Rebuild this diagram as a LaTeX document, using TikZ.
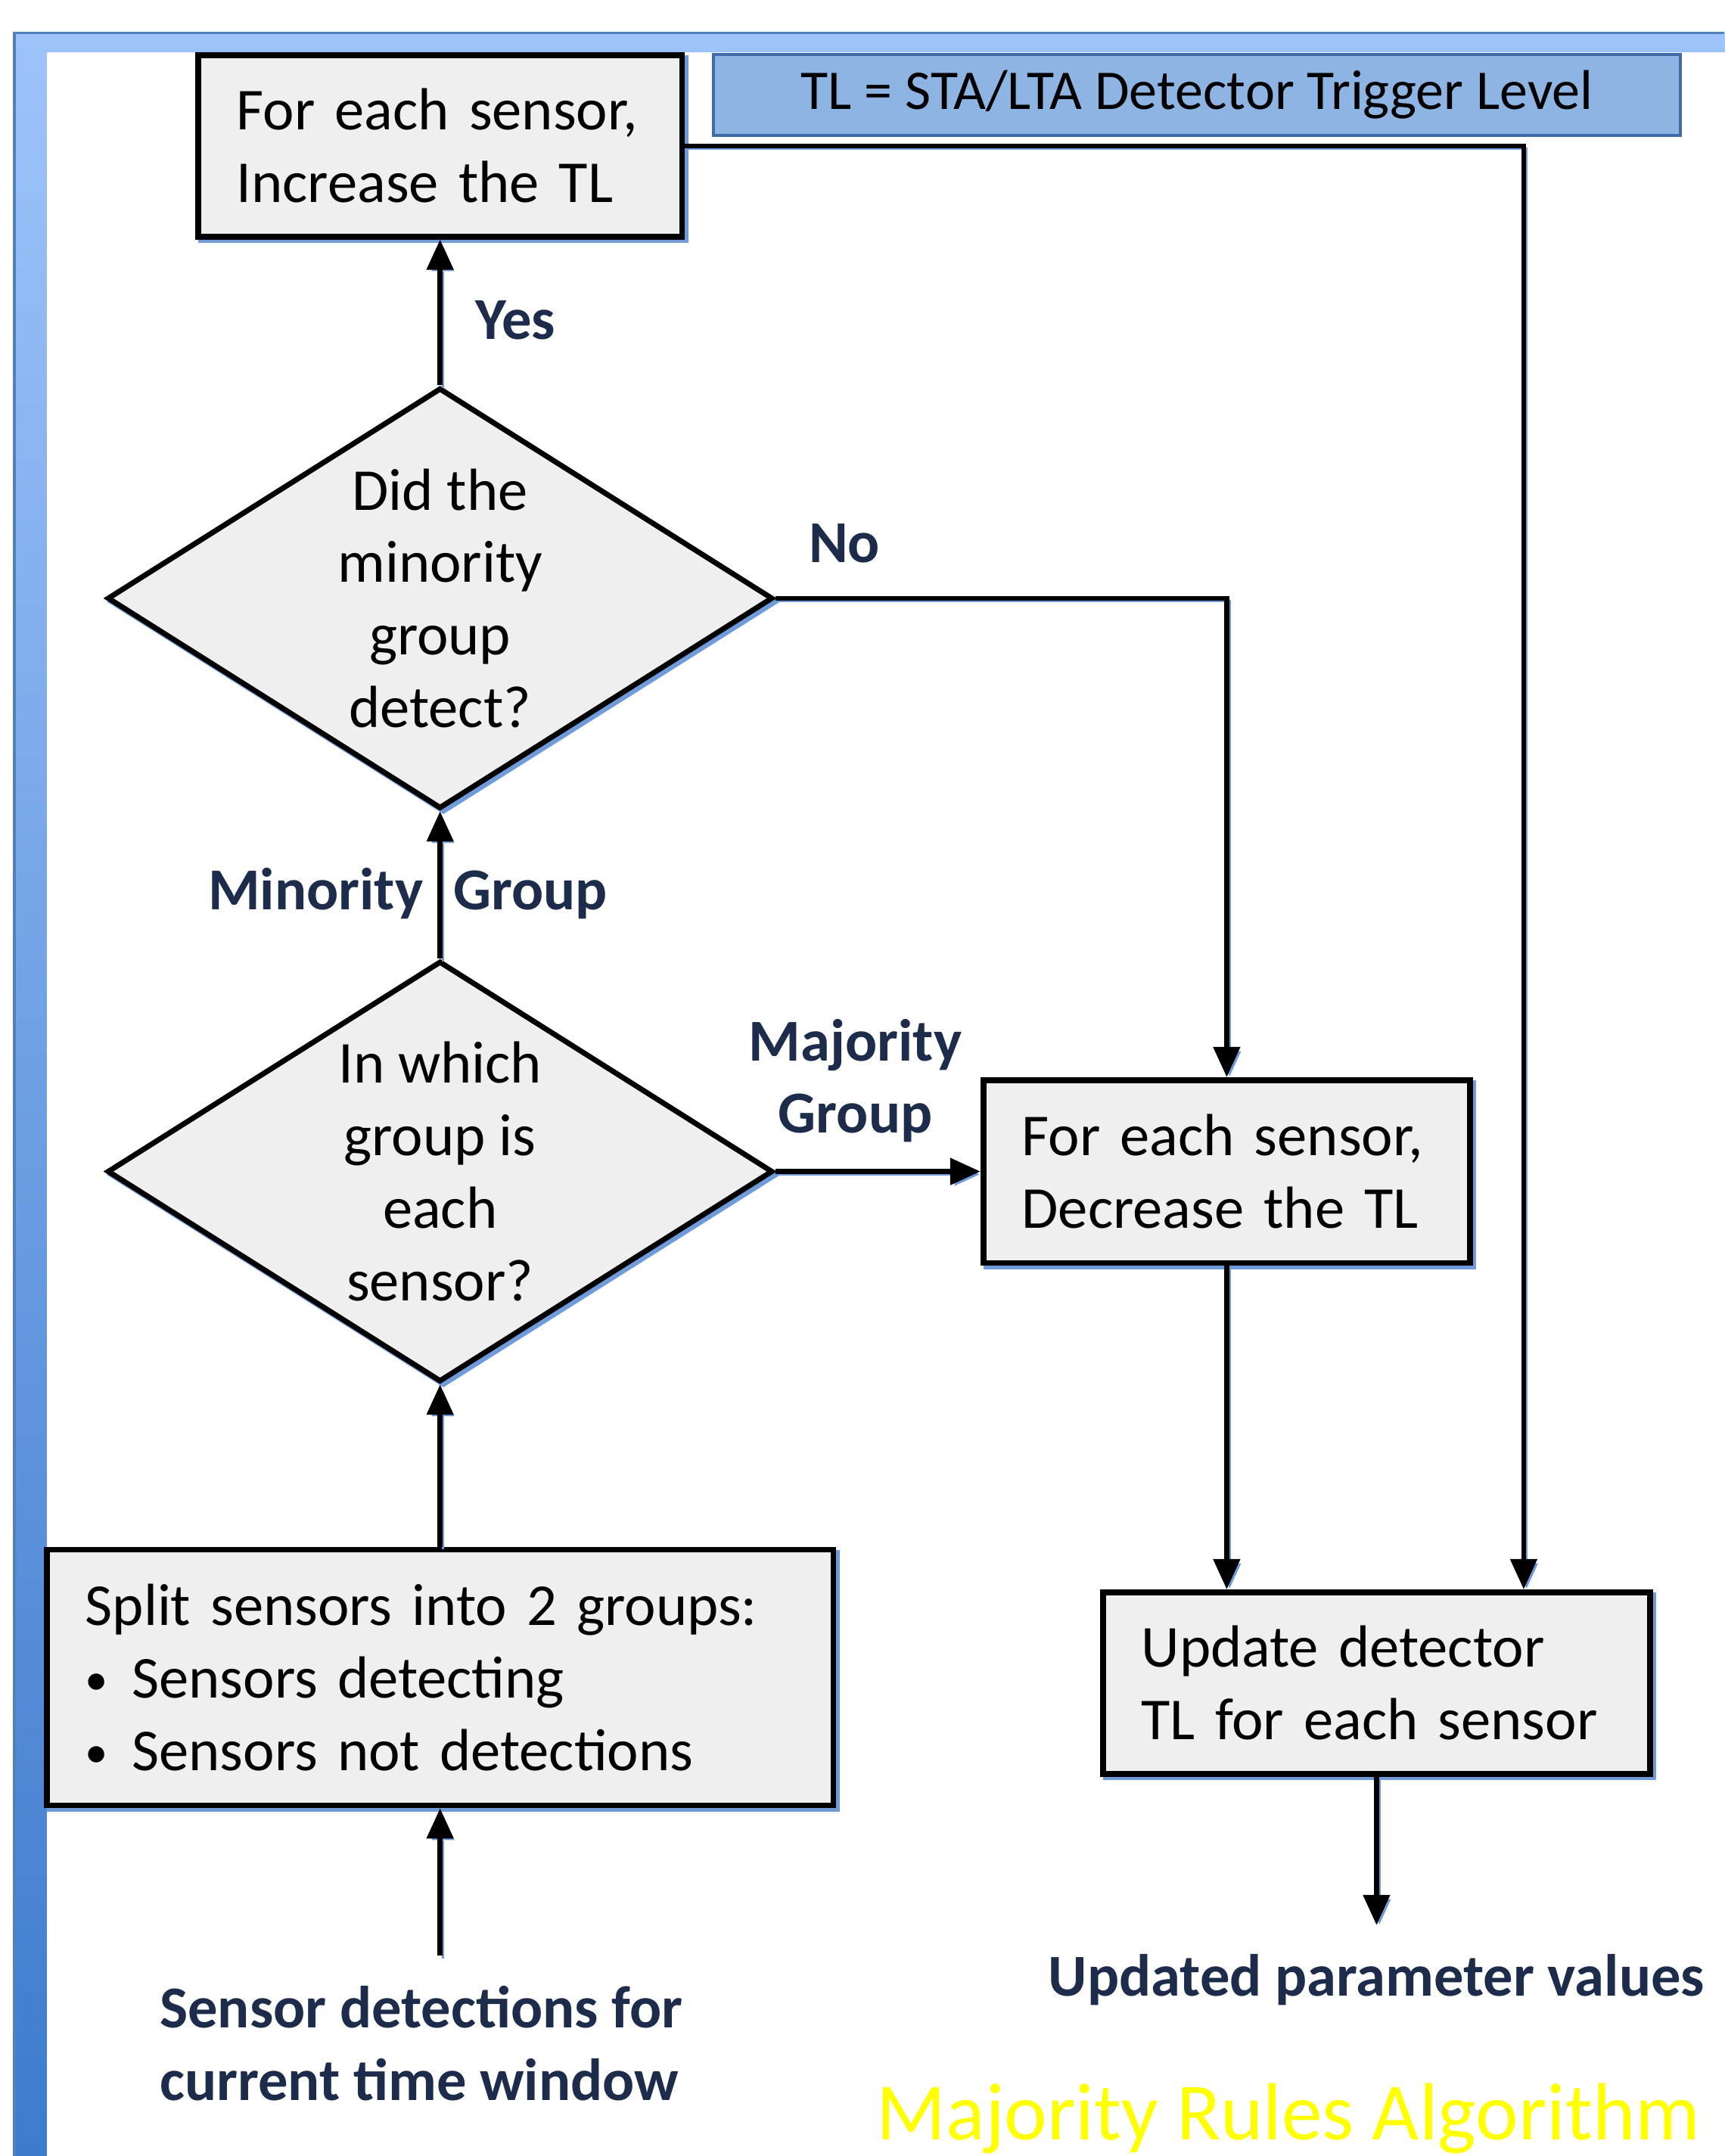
\documentclass[tikz,border=0pt]{standalone}
\usepackage{fontspec}
\setmainfont{Carlito}
\usetikzlibrary{arrows.meta,positioning,calc,shapes.geometric,shadows}

\definecolor{boxgray}{HTML}{EFEFEF}
\definecolor{shadowblue}{HTML}{6F9BDB}
\definecolor{keyblue}{HTML}{8EB4E3}
\definecolor{keyedge}{HTML}{3F6BA8}
\definecolor{frametop}{HTML}{9DC3FA}
\definecolor{framebot}{HTML}{3E7BCD}
\definecolor{frameedge}{HTML}{4F81BD}
\definecolor{labelnavy}{HTML}{1E2C4C}
\definecolor{titleyellow}{HTML}{FFFF00}

\newcommand{\dotitem}{\makebox[0.34cm][l]{\raisebox{0.6pt}{\fontsize{9.5}{15}\selectfont\textbullet}}}

\begin{document}
\begin{tikzpicture}[
  font=\fontsize{12.3}{15}\selectfont,
  blueshadow/.style={drop shadow={shadow xshift=0.7pt, shadow yshift=-0.7pt,
              fill=shadowblue, draw=shadowblue, opacity=1}},
  box/.style={draw, line width=1.2pt, fill=boxgray, minimum height=1.32cm,
              align=left, inner xsep=0.28cm, inner ysep=0pt, blueshadow},
  decision/.style={diamond, draw, line width=1.1pt, fill=boxgray, aspect=1.58,
              inner sep=0pt, minimum width=4.84cm, minimum height=3.06cm,
              align=center, blueshadow},
  keybox/.style={draw=keyedge, line width=0.6pt, fill=keyblue, inner sep=0pt,
              minimum width=7.03cm, minimum height=0.59cm,
              font=\fontsize{11.6}{14}\selectfont},
  tag/.style={font=\fontsize{12.3}{15}\selectfont\bfseries, text=labelnavy,
              align=center, inner sep=1pt},
  arr/.style={-{Triangle[length=2.2mm, width=1.9mm]}, line width=1pt,
              preaction={draw=shadowblue, transform canvas={shift={(0.6pt,-0.6pt)}}}}
]
\path[use as bounding box, fill=white] (0,0) rectangle (12.54,15.68);

% frame
\shade[top color=frametop, bottom color=framebot]
  (0.105,0) -- (0.105,15.44) -- (12.54,15.44) -- (12.54,15.30)
  -- (0.34,15.30) -- (0.34,0) -- cycle;
\draw[frameedge, line width=0.6pt] (0.105,0) -- (0.105,15.44) -- (12.54,15.44);

\node[keybox] (key) at (8.705,14.99) {TL = STA/LTA Detector Trigger Level};

\node[decision] (qgroup) at (3.20,7.16) {In which\\group is\\each\\sensor?};
\node[decision, above=1.07cm of qgroup] (qmin) {Did the\\minority\\group\\detect?};
\node[box, text width=2.96cm, above=1.06cm of qmin] (incr)
  {For each sensor,\\Increase the TL};
\node[box, text width=2.98cm, minimum height=1.33cm, right=1.49cm of qgroup] (decr)
  {For each sensor,\\Decrease the TL};
\node[box, text width=5.16cm, minimum height=1.86cm, below=1.18cm of qgroup] (split)
  {Split sensors into 2 groups:\\
   \dotitem Sensors detecting\\
   \dotitem Sensors not detections};
\node[box, text width=3.42cm] (upd) at (10.01,3.44)
  {Update detector\\TL for each sensor};

\coordinate[below=1.07cm of split] (src);
\coordinate[below=1.08cm of upd] (out);

\draw[arr] (qmin) -- (incr);
\draw[arr] (qmin.east) -| (decr.north);
\draw[arr] (qgroup) -- (qmin);
\draw[arr] (qgroup) -- (decr);
\draw[arr] (split) -- (qgroup);
\draw[arr] (src) -- (split);
\draw[arr] (incr.east) -| ([xshift=1.07cm]upd.north);
\draw[arr] (decr.south) -- (decr.south |- upd.north);
\draw[arr] (upd) -- (out);

\node[tag] (yes) at (3.75,13.35) {Yes};
\node[tag] (no) at (6.14,11.73) {No};
\node[tag] (minor) at (2.965,9.18) {Minority\hspace{0.12cm} Group};
\node[tag] (major) at (6.22,7.82) {Majority\\Group};
\node[tag, align=left, anchor=west] (input) at (1.12,0.82)
  {Sensor detections for\\current time window};
\node[tag] (output) at (10.01,1.28) {Updated parameter values};
\node[font=\fontsize{16.8}{20}\selectfont, text=titleyellow, anchor=base] (title)
  at (9.37,0.12) {Majority Rules Algorithm};
\end{tikzpicture}
\end{document}
